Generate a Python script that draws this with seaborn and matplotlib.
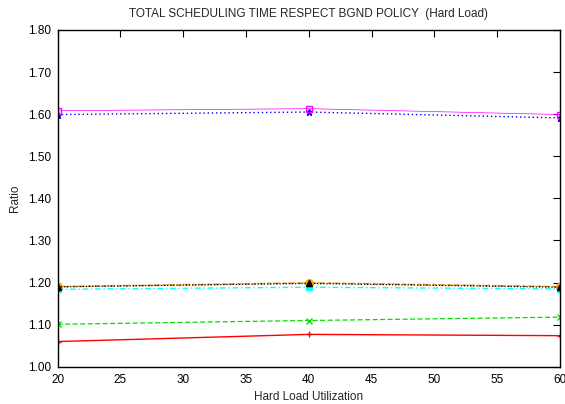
import numpy as np
import pandas as pd
import matplotlib
matplotlib.use("Agg")
import matplotlib.pyplot as plt
import seaborn as sns

x_vals = [20, 40, 60]
s1 = [1.060, 1.077, 1.074]   # red +
s2 = [1.101, 1.110, 1.118]   # green x
s3 = [1.599, 1.605, 1.591]   # blue *
s4 = [1.608, 1.613, 1.599]   # magenta open square
s5 = [1.184, 1.189, 1.185]   # cyan filled square
s6 = [1.190, 1.199, 1.190]   # sienna open circle
s7 = [1.191, 1.200, 1.191]   # orange filled circle
s8 = [1.190, 1.198, 1.189]   # black filled triangle

series = [s1, s2, s3, s4, s5, s6, s7, s8]
names = ["s1", "s2", "s3", "s4", "s5", "s6", "s7", "s8"]
colors = ["#ff0000", "#00e000", "#0000ff", "#ff00ff", "#00ffff", "#a0522d", "#ffa500", "#000000"]
markers = ["+", "x", "*", "s", "s", "o", "o", "^"]
fills = [True, True, True, False, True, False, True, True]
styles = ["-", (0, (4, 2)), (0, (1, 2)), "-", (0, (4, 2, 1, 2)), (0, (3, 3)), (0, (2, 2)), (0, (1, 1.5))]
widths = [1.0, 0.9, 1.0, 0.5, 1.0, 0.9, 0.9, 0.9]

rows = []
for n, vals in zip(names, series):
    for xv, yv in zip(x_vals, vals):
        rows.append({"x": xv, "y": yv, "s": n})
df = pd.DataFrame(rows)

sns.set_style("white")
plt.rcParams['font.family'] = ['Liberation Sans', 'DejaVu Sans']

fig = plt.figure(figsize=(5.65, 4.04), dpi=100)
ax = fig.add_axes([0.102, 0.092, 0.889, 0.834])

for n, c, m, f, ls, lw in zip(names, colors, markers, fills, styles, widths):
    sub = df[df["s"] == n]
    sns.lineplot(data=sub, x="x", y="y", ax=ax, color=c, linewidth=lw, linestyle=ls,
                 marker=m, markersize=5,
                 markerfacecolor=(c if f else "none"), markeredgecolor=c,
                 markeredgewidth=1.0, legend=False)

ax.set_xlim(20, 60)
ax.set_ylim(1.0, 1.8)
ax.set_xticks(np.arange(20, 61, 5))
ax.set_yticks(np.arange(1.0, 1.81, 0.1))
ax.set_yticklabels([f"{v:.2f}" for v in np.arange(1.0, 1.81, 0.1)])
ax.tick_params(direction="in", length=5, width=0.8, top=True, right=True, labelsize=8.5, colors="black", pad=5)
for sp in ax.spines.values():
    sp.set_color("black")
    sp.set_linewidth(1.0)
    sp.set_visible(True)
ax.set_xlabel("Hard Load Utilization", fontsize=8.5, labelpad=4)
ax.set_ylabel("Ratio", fontsize=8.5)
ax.yaxis.set_label_coords(-0.072, 0.5)
ax.set_title("TOTAL SCHEDULING TIME RESPECT BGND POLICY  (Hard Load)", fontsize=8.5, pad=9)

fig.savefig("out.png", dpi=100)
